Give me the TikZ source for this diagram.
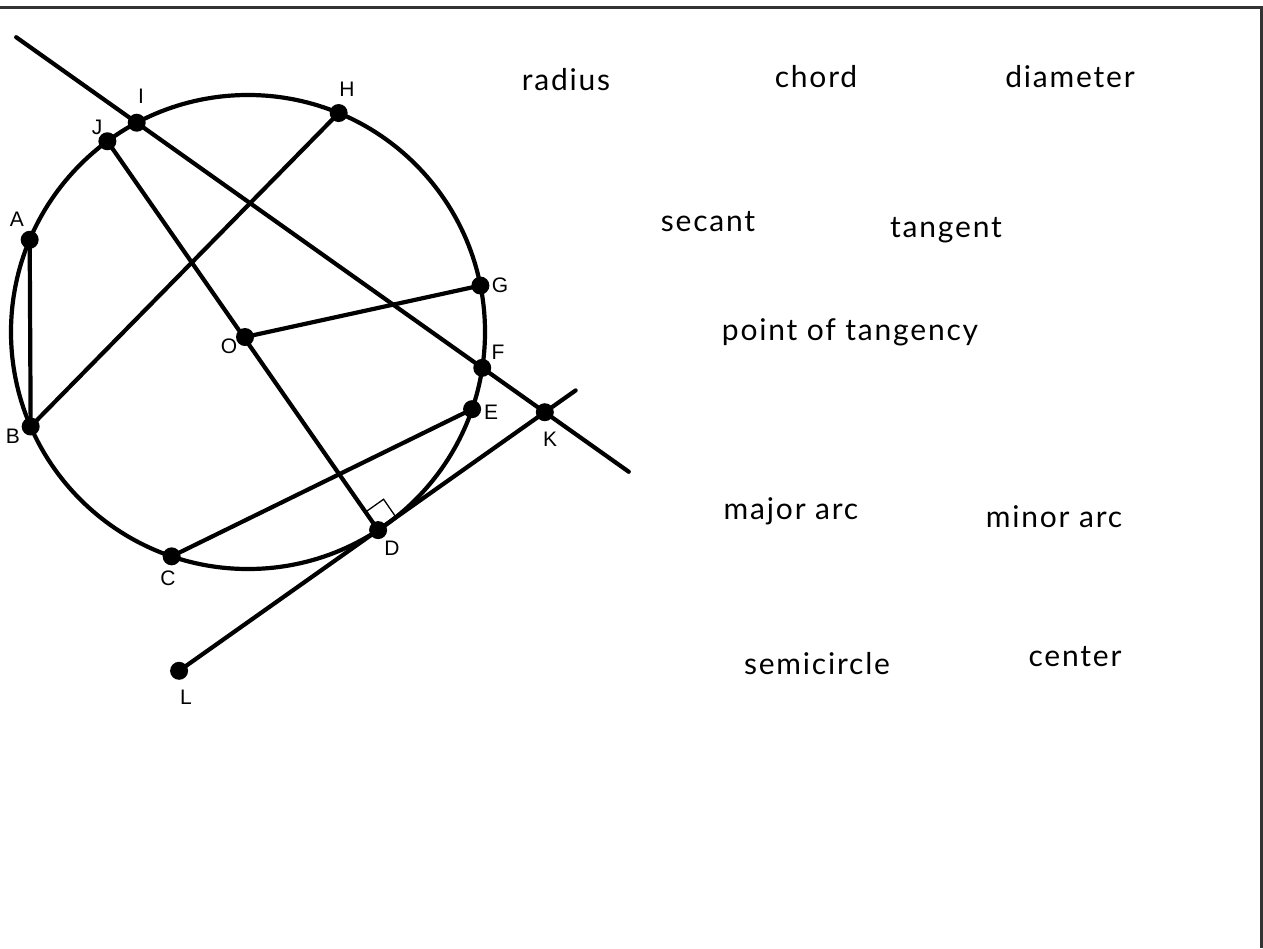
\documentclass[tikz,border=0pt]{standalone}
\usepackage{fontspec}
\setmainfont{Liberation Sans}
\newfontfamily\wordfont[LetterSpace=6]{Lato}
\usetikzlibrary{calc}
\begin{document}
\begin{tikzpicture}[x=1pt,y=-1pt,
  geo/.style={line width=4.2pt,line cap=round},
  dot/.style={circle,fill=black,inner sep=0pt,minimum size=18pt},
  plabel/.style={font=\fontsize{21}{24}\selectfont,inner sep=0pt},
  word/.style={font=\wordfont\fontsize{30}{34}\selectfont,inner sep=0pt},
  frame/.style={line width=3pt,draw=black!80}]
\useasboundingbox (0,0) rectangle (1263,948);
\draw[frame] (0,7.5) -- (1261.5,7.5) -- (1261.5,948);
% circle
\coordinate (cc) at (248,332);
\draw[geo] (cc) circle[radius=237];
\coordinate (I) at ($(cc)+(-118:237)$);
\coordinate (H) at ($(cc)+(-67.5:237)$);
\coordinate (J) at ($(cc)+(-126.4:237)$);
\coordinate (A) at ($(cc)+(-157.1:237)$);
\coordinate (B) at ($(cc)+(156.5:237)$);
\coordinate (C) at ($(cc)+(108.8:237)$);
\coordinate (D) at ($(cc)+(56.7:237)$);
\coordinate (E) at ($(cc)+(19:237)$);
\coordinate (F) at ($(cc)+(8.7:237)$);
\coordinate (G) at ($(cc)+(-11.3:237)$);
\coordinate (O) at (245,337);
\coordinate (s1) at ($(I)!-0.349!(F)$);
\coordinate (s2) at ($(I)!1.424!(F)$);
\coordinate (K) at ($(I)!1.181!(F)$);
\coordinate (L) at ($(D)!-1.194!(K)$);
\coordinate (t2) at ($(D)!1.185!(K)$);
% lines
\draw[geo] (s1) -- (s2);
\draw[geo] (L) -- (t2);
\draw[geo] (A) -- (B);
\draw[geo] (B) -- (H);
\draw[geo] (C) -- (E);
\draw[geo] (J) -- (D);
\draw[geo] (O) -- (G);
% right angle mark
\draw[line width=1.3pt] ($(D)!22pt!(O)$) -- ($($(D)!22pt!(O)$)+($(D)!22pt!(K)$)-(D)$) -- ($(D)!22pt!(K)$);
% dots
\foreach \p in {I,H,J,A,B,C,D,E,F,G,O,K,L}
  \node[dot] (d\p) at (\p) {};
% point labels
\node[plabel] (lI) at (141,96) {I};
\node[plabel] (lH) at (347,89) {H};
\node[plabel] (lJ) at (97,127) {J};
\node[plabel] (lA) at (17,219) {A};
\node[plabel] (lB) at (13,436) {B};
\node[plabel] (lC) at (168,578) {C};
\node[plabel] (lD) at (392,548) {D};
\node[plabel] (lE) at (491,412) {E};
\node[plabel] (lF) at (498,352) {F};
\node[plabel] (lG) at (500,285) {G};
\node[plabel] (lO) at (229,346) {O};
\node[plabel] (lK) at (550,439) {K};
\node[plabel] (lL) at (186,697) {L};
% words
\node[word] (w1) at (566,80) {radius};
\node[word] (w2) at (816,77) {chord};
\node[word] (w3) at (1070,77) {diameter};
\node[word] (w4) at (708,222) {secant};
\node[word] (w5) at (946,230) {tangent};
\node[word] (w6) at (850,332) {point of tangency};
\node[word] (w7) at (791,511) {major arc};
\node[word] (w8) at (1054,517) {minor arc};
\node[word] (w9) at (817,664) {semicircle};
\node[word] (w10) at (1075,657) {center};
\end{tikzpicture}
\end{document}
